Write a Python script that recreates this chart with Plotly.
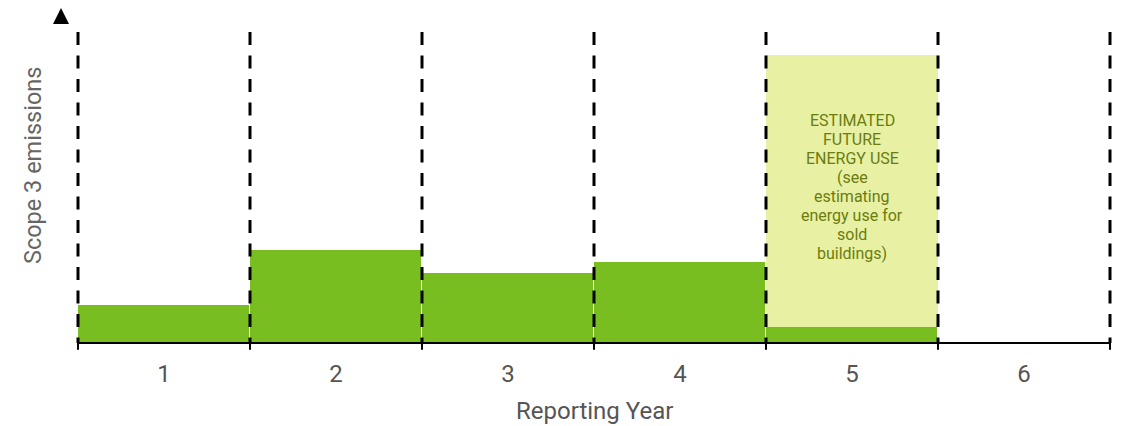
import plotly.graph_objects as go

years = [1, 2, 3, 4, 5, 6]
tick_labels = ["1", "2", "3", "4", "5", "6"]
actual_emissions = [38, 93, 70, 81, 16, 0]
estimated_future = [0, 0, 0, 0, 272, 0]
boundaries = [0.5, 1.5, 2.5, 3.5, 4.5, 5.5, 6.5]
estimate_lines = ["ESTIMATED", "FUTURE", "ENERGY USE", "(see", "estimating",
                  "energy use for", "sold", "buildings)"]
y_title = "Scope 3 emissions"
x_title = "Reporting Year"

GREEN = "#78be20"
LIGHT = "#e8f0a3"
FONT = "Roboto"

fig = go.Figure()
fig.add_trace(go.Bar(
    x=years, y=actual_emissions, width=1,
    marker=dict(color=GREEN, line=dict(color="white", width=1)),
    hoverinfo="skip", showlegend=False,
))
fig.add_trace(go.Bar(
    x=years, y=estimated_future, width=1,
    marker=dict(color=LIGHT, line=dict(color="white", width=0)),
    hoverinfo="skip", showlegend=False,
))

x0, x1 = boundaries[0], boundaries[-1]
shapes = []
for b in boundaries:
    px = (b - x0) / (x1 - x0)
    shapes.append(dict(type="line", xref="paper", yref="paper", x0=px, x1=px, y0=1, y1=0,
                       line=dict(color="black", width=3, dash="13px,10.5px"), layer="above"))
    shapes.append(dict(type="line", xref="paper", yref="paper", x0=px, x1=px, y0=0.008, y1=-0.022,
                       line=dict(color="black", width=2), layer="above"))
# bottom axis line
shapes.append(dict(type="line", xref="paper", yref="paper", x0=0, x1=1, y0=0, y1=0,
                   line=dict(color="black", width=2), layer="above"))
# arrow head of y axis
shapes.append(dict(type="path", xref="paper", yref="paper",
                   path="M -0.0242,1.026 L -0.0087,1.026 L -0.0165,1.077 Z",
                   fillcolor="black", line=dict(color="black", width=0)))

# annotation for estimated block: one line each, 19 px pitch
annotations = []
n = len(estimate_lines)
center_y = 156
for i, line in enumerate(estimate_lines):
    annotations.append(dict(x=5, y=center_y + ((n - 1) / 2 - i) * 19, xref="x", yref="y",
                            text=line, showarrow=False,
                            font=dict(family=FONT, size=16, color="#6b7d10")))
annotations.append(dict(x=-0.0436, y=0.569, xref="paper", yref="paper", text=y_title,
                        textangle=-90, showarrow=False, xanchor="center", yanchor="middle",
                        font=dict(family=FONT, size=23.5, color="#666666")))
annotations.append(dict(x=0.5, y=-0.2186, xref="paper", yref="paper", text=x_title,
                        showarrow=False, xanchor="center", yanchor="middle",
                        font=dict(family=FONT, size=24, color="#555555")))

fig.update_layout(
    barmode="stack",
    width=1122, height=426,
    margin=dict(l=78, r=12, t=32, b=83),
    paper_bgcolor="white", plot_bgcolor="white",
    font=dict(family=FONT, color="#555555", size=24),
    shapes=shapes,
    annotations=annotations,
    xaxis=dict(range=[x0, x1], tickvals=years, ticktext=tick_labels, showgrid=False,
               zeroline=False, showline=False, automargin=False,
               ticks="", ticklabelstandoff=14,
               tickfont=dict(family=FONT, size=24, color="#555555")),
    yaxis=dict(range=[0, 311], showticklabels=False, showgrid=False, zeroline=False,
               showline=False, ticks="", automargin=False),
    bargap=0,
)

fig.write_html("out.html")
